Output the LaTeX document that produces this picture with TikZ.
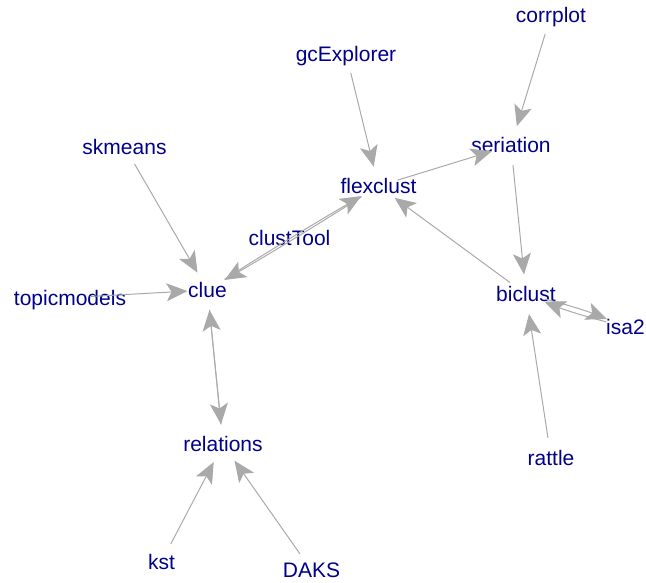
\documentclass[tikz,border=0pt]{standalone}
\usepackage{fontspec}
\setmainfont{Liberation Sans}
\usetikzlibrary{arrows.meta}
\definecolor{lbl}{HTML}{00008B}
\definecolor{edgegray}{HTML}{A9A9A9}
\begin{document}
\begin{tikzpicture}[x=1pt,y=-1pt,
  pkg/.style={text=lbl, font=\fontsize{21}{25}\selectfont, inner sep=0pt,
    text height=15pt, text depth=0pt, anchor=center},
  dep/.style={draw=edgegray, line width=1pt,
    -{Stealth[length=21pt,width=18pt,inset=5pt]},
    shorten <=20pt, shorten >=20pt}]
\useasboundingbox (0,0) rectangle (646,583);
\node[pkg] (corrplot)    at (551,15)    {corrplot};
\node[pkg] (gcExplorer)  at (346,53.6)  {gcExplorer};
\node[pkg] (seriation)   at (511,145.3) {seriation};
\node[pkg] (skmeans)     at (124.5,146.6) {skmeans};
\node[pkg] (flexclust)   at (378.5,186) {flexclust};
\node[pkg] (clustTool)   at (289.5,237.6) {clustTool};
\node[pkg] (clue)        at (207.5,290) {clue};
\node[pkg] (topicmodels) at (70,297.6)  {topicmodels};
\node[pkg] (biclust)     at (526,294.3) {biclust};
\node[pkg] (isa2)        at (625.5,326.6) {isa2};
\node[pkg] (relations)   at (223,444.3) {relations};
\node[pkg] (rattle)      at (551,457.6) {rattle};
\node[pkg] (kst)         at (161.5,561.6) {kst};
\node[pkg] (DAKS)        at (311.5,570.3) {DAKS};

\draw[dep] (corrplot.center) -- (seriation.center);
\draw[dep] (gcExplorer.center) -- (flexclust.center);
\draw[dep] (flexclust.center) -- (seriation.center);
\draw[dep] (seriation.center) -- (biclust.center);
\draw[dep] (biclust.center) -- (flexclust.center);
\draw[dep] (biclust.center) to[bend left=4] (isa2.center);
\draw[dep] (isa2.center) to[bend left=4] (biclust.center);
\draw[dep] (rattle.center) -- (biclust.center);
\draw[dep] (skmeans.center) -- (clue.center);
\draw[dep] (topicmodels.center) -- (clue.center);
\draw[dep] (clue.center) to[bend left=1] (flexclust.center);
\draw[dep] (flexclust.center) to[bend left=1] (clue.center);
\draw[dep] (clue.center) -- (relations.center);
\draw[dep] (relations.center) -- (clue.center);
\draw[dep] (kst.center) -- (relations.center);
\draw[dep] (DAKS.center) -- (relations.center);
\end{tikzpicture}
\end{document}
